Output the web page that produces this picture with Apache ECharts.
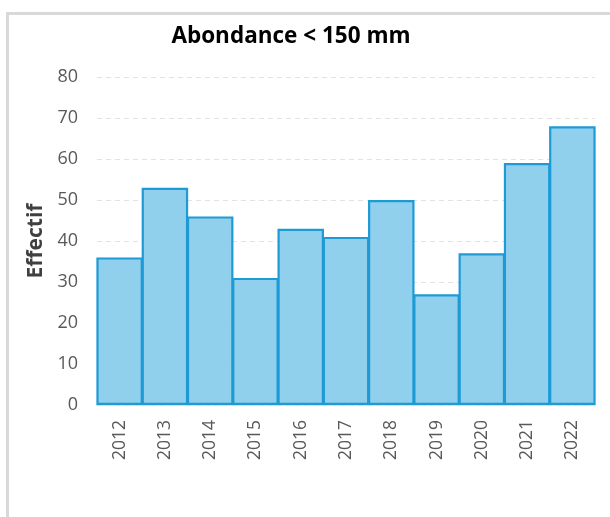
<!DOCTYPE html>
<html><head><meta charset="utf-8">
<script src="https://cdn.jsdelivr.net/npm/echarts@6/dist/echarts.min.js"></script>
<style>html,body{margin:0;padding:0;background:#fff;}#c{width:610px;height:517px;}</style>
</head><body><div id="c"></div>
<script>
const categories = ['2012','2013','2014','2015','2016','2017','2018','2019','2020','2021','2022'];
const values = [36, 53, 46, 31, 43, 41, 50, 27, 37, 59, 68];
const yTicks = {min: 0, max: 80, interval: 10};
const title = 'Abondance < 150 mm';
const yName = 'Effectif';

const chart = echarts.init(document.getElementById('c'), null, {renderer: 'canvas'});
chart.setOption({
  animation: false,
  backgroundColor: '#fff',
  graphic: [{
    type: 'rect', shape: {x: 7.5, y: 13.5, width: 700, height: 600},
    style: {fill: 'none', stroke: '#d9d9d9', lineWidth: 3}, silent: true
  }],
  title: {
    text: title, left: 286, top: 20, textAlign: 'center',
    textStyle: {fontFamily: 'Open Sans', fontWeight: 'bold', fontSize: 22.5, color: '#000'}
  },
  grid: {left: 97, right: 15, top: 77, bottom: 112},
  xAxis: {
    type: 'category', data: categories,
    axisLine: {lineStyle: {color: '#d9d9d9', width: 1.5}},
    axisTick: {show: false},
    axisLabel: {rotate: 90, color: '#595959', fontSize: 17.5, fontFamily: 'Open Sans', margin: 15}
  },
  yAxis: {
    type: 'value', min: yTicks.min, max: yTicks.max, interval: yTicks.interval,
    name: yName, nameLocation: 'middle', nameGap: 46, nameRotate: 90,
    nameTextStyle: {fontFamily: 'Open Sans', fontWeight: 'bold', fontSize: 21, color: '#404040'},
    axisLine: {show: false}, axisTick: {show: false},
    axisLabel: {color: '#595959', fontSize: 18, fontFamily: 'Open Sans', margin: 19},
    splitLine: {lineStyle: {color: '#e3e3e3', type: [5, 4], width: 1}}
  },
  series: [{
    type: 'bar', data: values, barWidth: 46.5,
    itemStyle: {color: 'rgba(138,205,236,0.95)', borderColor: '#1e9ad6', borderWidth: 2.2}
  }]
});
</script></body></html>
